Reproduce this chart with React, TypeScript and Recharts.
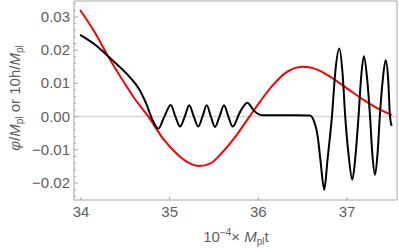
import { LineChart, Line, XAxis, YAxis, ReferenceLine, Label } from 'recharts';

// 10^-4 * M_pl t  vs  phi/M_pl (black)
const blackT = [
  33.99, 34.18, 34.3, 34.44, 34.55, 34.66, 34.74, 34.81, 34.872, 34.94, 35.012, 35.065, 35.117, 35.17,
  35.221, 35.272, 35.323, 35.37, 35.418, 35.465, 35.511, 35.562, 35.613, 35.662, 35.711, 35.79, 35.876,
  35.95, 36.04, 36.2, 36.4, 36.58, 36.63, 36.67, 36.7, 36.744, 36.78, 36.83, 36.87, 36.913, 36.95, 36.98,
  37.02, 37.06, 37.095, 37.13, 37.16, 37.19, 37.225, 37.26, 37.285, 37.316, 37.345, 37.37, 37.405, 37.436,
  37.465, 37.485, 37.504,
];
const blackPhi = [
  0.0246, 0.0212, 0.0183, 0.0149, 0.0119, 0.0081, 0.0036, -0.0012, -0.0036, 0.0, 0.0035, 0.0, -0.003, 0.0,
  0.0034, 0.0, -0.003, 0.0, 0.0034, 0.0, -0.0031, 0.0, 0.0034, 0.0, -0.003, 0.0012, 0.0042,
  0.0018, 0.0004, 0.0004, 0.0004, 0.0003, -0.0015, -0.006, -0.013, -0.022, -0.013, 0.0, 0.014, 0.0205, 0.013, 0.0,
  -0.012, -0.019, -0.012, 0.0, 0.012, 0.0182, 0.012, 0.0, -0.011, -0.0175, -0.011, 0.0, 0.0115, 0.017,
  0.011, 0.0, -0.0028,
];

// 10h/M_pl (red)
const redT = [
  33.99, 34.15, 34.3, 34.45, 34.6, 34.76, 34.93, 35.08, 35.2, 35.34, 35.46, 35.58, 35.72, 35.9, 36.02,
  36.15, 36.3, 36.5, 36.65, 36.8, 37.0, 37.2, 37.35, 37.504,
];
const redH = [
  0.0321, 0.0256, 0.0184, 0.0118, 0.0056, 0.0, -0.0068, -0.0112, -0.0137, -0.0149, -0.0141, -0.0112,
  -0.0068, 0.0, 0.0045, 0.009, 0.013, 0.015, 0.0143, 0.0122, 0.0085, 0.0048, 0.0024, 0.0005,
];

const xTicks = [34, 35, 36, 37];
const yTicks = [
  -0.024, -0.022, -0.02, -0.018, -0.016, -0.014, -0.012, -0.01, -0.008, -0.006, -0.004, -0.002, 0,
  0.002, 0.004, 0.006, 0.008, 0.01, 0.012, 0.014, 0.016, 0.018, 0.02, 0.022, 0.024, 0.026, 0.028, 0.03,
  0.032, 0.034,
];

const xDomain = [33.921, 37.564];
const yDomain = [-0.0251, 0.0348];

const blackData = blackT.map((t, i) => ({ t, v: blackPhi[i] }));
const redData = redT.map((t, i) => ({ t, v: redH[i] }));

const FONT = '"Liberation Sans", Arial, sans-serif';
const TEXT = '#5e5e5e';
const AXIS = '#a6a6a6';

function YTick(props: any) {
  const { x, y, payload } = props;
  const v = payload.value as number;
  const major = Math.abs(v * 100 - Math.round(v * 100)) < 1e-6;
  const ax = x + 4;
  return (
    <g>
      <line x1={ax} x2={ax + (major ? 4 : 2)} y1={y} y2={y} stroke={AXIS} />
      {major && (
        <text x={x} y={y} dy={5} textAnchor="end" fill={TEXT} fontSize={15} fontFamily={FONT}>
          {(v < 0 ? '\u2212' : '') + Math.abs(v).toFixed(2)}
        </text>
      )}
    </g>
  );
}

function YTitle() {
  return (
    <text transform="rotate(-90)" x={-98} y={20} textAnchor="middle" fill={TEXT} fontSize={15} fontFamily={FONT}>
      <tspan fontStyle="italic">φ</tspan>
      <tspan>/</tspan>
      <tspan fontStyle="italic">M</tspan>
      <tspan fontSize={10} dy={3}>pl</tspan>
      <tspan dy={-3}> or 10h/</tspan>
      <tspan fontStyle="italic">M</tspan>
      <tspan fontSize={10} dy={3}>pl</tspan>
    </text>
  );
}

function XTitle() {
  return (
    <text x={236} y={242} textAnchor="middle" fill={TEXT} fontSize={15} fontFamily={FONT}>
      <tspan>10</tspan>
      <tspan fontSize={10} dy={-6}>{'\u22124'}</tspan>
      <tspan dy={6}>{'\u00d7 '}</tspan>
      <tspan fontStyle="italic">M</tspan>
      <tspan fontSize={10} dy={3}>pl</tspan>
      <tspan dy={-3}>t</tspan>
    </text>
  );
}

export default function App() {
  return (
    <div style={{ position: 'absolute', left: 0, top: 0, background: '#fff' }}>
      <LineChart width={399} height={252} margin={{ top: 1, right: 2, bottom: 0, left: 0 }}>
        <XAxis
          type="number"
          dataKey="t"
          domain={xDomain}
          ticks={xTicks}
          allowDataOverflow
          stroke={AXIS}
          height={52}
          tickSize={-3}
          tickMargin={9}
          tick={{ fill: TEXT, fontSize: 15, fontFamily: FONT }}
        >
          <Label content={<XTitle />} />
        </XAxis>
        <YAxis
          type="number"
          domain={yDomain}
          ticks={yTicks}
          interval={0}
          allowDataOverflow
          stroke={AXIS}
          width={74}
          tickLine={false}
          tickSize={0}
          tickMargin={4}
          tick={<YTick />}
        >
          <Label content={<YTitle />} />
        </YAxis>
        <ReferenceLine y={0} stroke="#d6d6d6" strokeWidth={1.5} />
        <ReferenceLine y={yDomain[1]} stroke={AXIS} />
        <ReferenceLine x={xDomain[1]} stroke={AXIS} />
        <Line data={redData} dataKey="v" type="monotone" stroke="#ff0000" strokeWidth={2} dot={false} isAnimationActive={false} />
        <Line data={blackData} dataKey="v" type="monotone" stroke="#000000" strokeWidth={2} dot={false} isAnimationActive={false} />
      </LineChart>
    </div>
  );
}
